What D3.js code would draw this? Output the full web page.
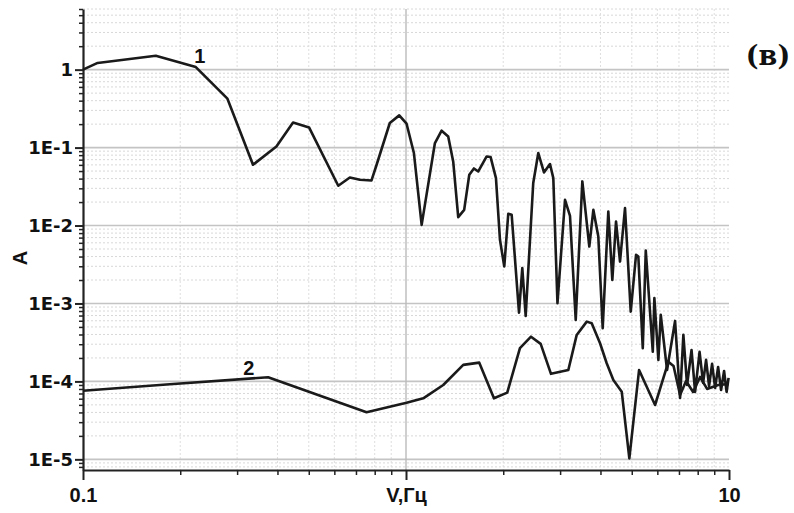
<!DOCTYPE html>
<html>
<head>
<meta charset="utf-8">
<script src="https://cdn.jsdelivr.net/npm/d3@7"></script>
<style>
  body { margin: 0; background: #fff; }
</style>
</head>
<body>
<script>
// curve 1 (frequency, Hz / amplitude)
const freq1 = [0.1, 0.111, 0.168, 0.2235, 0.28, 0.336, 0.397, 0.447, 0.501, 0.617, 0.67, 0.72, 0.782, 0.811,
  0.891, 0.953, 1.004, 1.058, 1.118, 1.229, 1.289, 1.351, 1.4, 1.451, 1.514, 1.57, 1.623, 1.674, 1.777, 1.828,
  1.899, 1.954, 2.015, 2.073, 2.124, 2.238, 2.291, 2.347, 2.477, 2.568, 2.674, 2.791, 2.858, 2.944, 3.107, 3.219,
  3.353, 3.515, 3.694, 3.802, 3.939, 4.064, 4.23, 4.353, 4.469, 4.598, 4.765, 4.963, 5.155, 5.24, 5.408, 5.525,
  5.808, 5.874, 6.044, 6.148, 6.43, 6.808, 7.055, 7.223, 7.416, 7.657, 7.852, 8.108, 8.314, 8.492, 8.676, 8.864,
  9.057, 9.253, 9.452, 9.655, 9.83, 9.97];
const amp1 = [1.0, 1.22, 1.51, 1.08, 0.424, 0.0602, 0.1035, 0.21, 0.1815, 0.0324, 0.0414, 0.0387, 0.0379, 0.0602,
  0.2067, 0.259, 0.2025, 0.0851, 0.0102, 0.1145, 0.1647, 0.139, 0.0664, 0.0128, 0.0159, 0.0448, 0.054, 0.0494, 0.077, 0.0756,
  0.0406, 0.00656, 0.00298, 0.01415, 0.01373, 0.000764, 0.00284, 0.000693, 0.0351, 0.0851, 0.048, 0.0615, 0.0406, 0.00101, 0.0214, 0.01333,
  0.000615, 0.0368, 0.00538, 0.0159, 0.00723, 0.000481, 0.01514, 0.00201, 0.01127, 0.00345, 0.01674, 0.000787, 0.00421, 0.004, 0.000267, 0.00478,
  0.000241, 0.00117, 0.000189, 0.000714, 0.00014, 0.000597, 0.0000613, 0.000395, 0.00009, 0.000253, 0.0000732, 0.000239, 0.0000955, 0.000189, 0.0000873, 0.000168,
  0.0000824, 0.000153, 0.0000776, 0.000136, 0.0000732, 0.000111];

// curve 2
const freq2 = [0.1, 0.1856, 0.3742, 0.755, 1.004, 1.131, 1.304, 1.504, 1.686, 1.872, 2.058, 2.253, 2.438, 2.612,
  2.811, 3.181, 3.377, 3.627, 3.758, 3.988, 4.182, 4.385, 4.655, 4.914, 5.267, 5.903, 6.491, 6.735, 7.055, 7.364,
  7.741, 8.137, 8.554, 9.253, 9.97];
const amp2 = [0.000076, 0.0000919, 0.000113, 0.0000402, 0.0000533, 0.0000607, 0.00009, 0.000163, 0.000174, 0.0000607, 0.0000717, 0.000267, 0.000375, 0.000303,
  0.000125, 0.00014, 0.000395, 0.000585, 0.000558, 0.000309, 0.000171, 0.000104, 0.0000738, 0.0000103, 0.00014, 0.0000498, 0.000178, 0.000158, 0.000067, 0.000101,
  0.0000732, 0.000114, 0.00008, 0.00009, 0.0000927];

// ticks
const xMajor = [0.1, 1, 10];
const xLabels = ["0.1", "V,Гц", "10"];
const yMajor = [1, 1e-1, 1e-2, 1e-3, 1e-4, 1e-5];
const yLabels = ["1", "1E-1", "1E-2", "1E-3", "1E-4", "1E-5"];

// curve names
const curveNames = ["1", "2"];
const nameFreq = [0.23, 0.326];
const nameAmp = [1.23, 1.21e-4];

function main(){
const margin = {top: 9, right: 65, bottom: 43, left: 83},
    width = 794 - margin.left - margin.right,
    height = 513 - margin.top - margin.bottom;

const svg = d3.select("body")
  .append("svg")
    .attr("width", width + margin.left + margin.right)
    .attr("height", height + margin.top + margin.bottom)
  .append("g")
    .attr("transform", `translate(${margin.left},${margin.top})`);

const x = d3.scaleLog().domain([0.1, 10]).range([0, width]);
const y = d3.scaleLog().domain([7.3e-6, 6]).range([height, 0]);

// minor values between decades
const xMinor = [];
[0.1, 1].forEach(d => { for (let k = 2; k <= 9; k++) xMinor.push(k * d); });
const yMinor = [];
[1e-6, 1e-5, 1e-4, 1e-3, 1e-2, 1e-1, 1].forEach(d => {
  for (let k = 2; k <= 9; k++) {
    const v = k * d;
    if (v >= y.domain()[0] && v <= y.domain()[1]) yMinor.push(v);
  }
});

// grid
svg.append("g").selectAll("line").data(yMinor).join("line")
    .attr("x1", 0).attr("x2", width)
    .attr("y1", d => y(d)).attr("y2", d => y(d))
    .attr("stroke", "#d8d8d8").attr("stroke-width", 1).attr("stroke-dasharray", "2,2");
svg.append("g").selectAll("line").data(xMinor).join("line")
    .attr("x1", d => x(d)).attr("x2", d => x(d))
    .attr("y1", 0).attr("y2", height)
    .attr("stroke", "#dedede").attr("stroke-width", 1).attr("stroke-dasharray", "2,2");
svg.append("g").selectAll("line").data(yMajor).join("line")
    .attr("x1", 0).attr("x2", width)
    .attr("y1", d => y(d)).attr("y2", d => y(d))
    .attr("stroke", "#c4c4c4").attr("stroke-width", 1.6);
svg.append("g").selectAll("line").data([1]).join("line")
    .attr("x1", d => x(d)).attr("x2", d => x(d))
    .attr("y1", 0).attr("y2", height)
    .attr("stroke", "#bbbbbb").attr("stroke-width", 1.4);

// y axis
svg.append("g")
    .call(d3.axisLeft(y).tickValues(yMinor).tickSize(4).tickSizeOuter(0).tickFormat(""))
    .call(g => g.select(".domain").remove())
    .selectAll("line").attr("stroke", "#222").attr("stroke-width", 1.5);
const yAxis = svg.append("g")
    .call(d3.axisLeft(y).tickValues(yMajor).tickSize(8).tickSizeOuter(0).tickPadding(2)
      .tickFormat((d, i) => yLabels[i]));
yAxis.select(".domain").attr("stroke", "#222").attr("stroke-width", 2.2);
yAxis.selectAll("line").attr("stroke", "#222").attr("stroke-width", 2);
yAxis.selectAll("text")
    .attr("font-family", "'DejaVu Sans', sans-serif")
    .attr("font-weight", "bold")
    .attr("font-size", "18px")
    .attr("fill", "#111");

// x axis
svg.append("g")
    .attr("transform", `translate(0, ${height})`)
    .call(d3.axisBottom(x).tickValues(xMinor).tickSize(5).tickSizeOuter(0).tickFormat(""))
    .call(g => g.select(".domain").remove())
    .selectAll("line").attr("stroke", "#222").attr("stroke-width", 1.5);
const xAxis = svg.append("g")
    .attr("transform", `translate(0, ${height})`)
    .call(d3.axisBottom(x).tickValues(xMajor).tickSize(10).tickSizeOuter(0).tickPadding(8)
      .tickFormat((d, i) => xLabels[i]));
xAxis.select(".domain").attr("stroke", "#222").attr("stroke-width", 2.2);
xAxis.selectAll("line").attr("stroke", "#222").attr("stroke-width", 2);
xAxis.selectAll("text")
    .attr("font-family", "'Liberation Sans', Arial, sans-serif")
    .attr("font-weight", "bold")
    .attr("font-size", "20px")
    .attr("fill", "#111");

// y axis title
svg.append("text")
    .attr("transform", `translate(${27 - margin.left}, ${258 - margin.top}) rotate(-90)`)
    .attr("text-anchor", "middle")
    .attr("font-family", "'Liberation Sans', Arial, sans-serif")
    .attr("font-weight", "bold")
    .attr("font-size", "20px")
    .attr("fill", "#111")
    .text("A");

// curves
const line = d3.line().x(d => x(d[0])).y(d => y(d[1]));
[d3.zip(freq1, amp1), d3.zip(freq2, amp2)].forEach(pts => {
  svg.append("path")
      .datum(pts)
      .attr("d", line)
      .attr("fill", "none")
      .attr("stroke", "#1a1a1a")
      .attr("stroke-width", 2.6)
      .attr("stroke-linejoin", "round");
});

// curve numbers
svg.append("g").selectAll("text").data(curveNames).join("text")
    .attr("x", (d, i) => x(nameFreq[i]))
    .attr("y", (d, i) => y(nameAmp[i]))
    .attr("text-anchor", "middle")
    .attr("font-family", "'Liberation Sans', Arial, sans-serif")
    .attr("font-weight", "bold")
    .attr("font-size", "20px")
    .attr("fill", "#111")
    .text(d => d);

// panel letter
svg.append("text")
    .attr("x", 768 - margin.left)
    .attr("y", 65 - margin.top)
    .attr("text-anchor", "middle")
    .attr("font-family", "'DejaVu Serif', serif")
    .attr("font-weight", "bold")
    .attr("font-size", "27px")
    .attr("fill", "#111")
    .text("(в)");
}

main();
</script>
</body>
</html>
